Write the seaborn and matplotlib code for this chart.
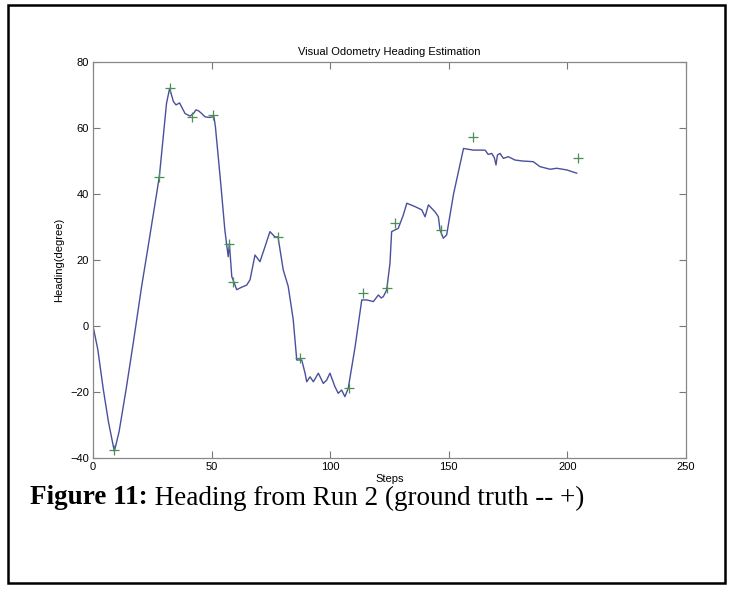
import matplotlib
matplotlib.use("Agg")
import matplotlib.pyplot as plt
import seaborn as sns
import pandas as pd
from matplotlib.patches import Rectangle

# ---- data ----
steps = [0, 2, 4.3, 6.5, 9, 11, 14, 17, 20.5, 23, 26.8, 28, 31, 32.3, 33.9, 35, 36.5,
         38.8, 40.9, 42.5, 43.4, 44.5, 45.8, 47.2, 49, 51, 51.6, 52.8, 54, 55.6, 57,
         57.5, 58.5, 60.6, 62.5, 64.8, 66.2, 68.3, 70.4, 72.5, 74.6, 76.7, 78, 80.2,
         82.3, 84.4, 85.9, 88, 89.4, 90.1, 91.5, 92.9, 95, 97.1, 98.5, 99.9, 102,
         103.4, 104.8, 106.2, 107.6, 110.5, 113.3, 115.4, 118.2, 120.3, 121.5, 122.4,
         123.8, 125.2, 125.9, 128.7, 130.8, 132.3, 135.7, 138.6, 140, 141.4, 144.2,
         145.6, 146.3, 147.7, 149.1, 152, 156.2, 160.3, 165.3, 166.6, 168.1, 169.2,
         169.9, 170.5, 171.6, 173, 175.1, 177.9, 181, 185.6, 188.4, 192.7, 195.5,
         199.7, 204]
heading = [0, -7, -19, -29, -38, -32, -19, -5, 12, 23, 40, 45.5, 67.5, 72, 68, 67, 67.6,
           64.4, 63.6, 64.5, 65.5, 65.2, 64.4, 63.4, 63.2, 63.4, 60.4, 51.3, 42, 29, 21,
           25, 15, 11, 11.7, 12.4, 14, 21.5, 19.5, 24, 28.6, 27, 27, 17,
           12, 2, -10.3, -10.3, -14.3, -16.9, -15.4, -16.9, -14.3, -17.4, -16.4, -14.3, -18.4,
           -20.4, -19.4, -21.4, -18.9, -6.3, 7.9, 7.9, 7.4, 9.4, 8.5, 8.9,
           10.9, 19, 28.6, 29.6, 33.6, 37.2, 36.2, 35.2, 33.1, 36.7, 34.6,
           33.1, 29.1, 26.6, 27.6, 40, 53.8, 53.3, 53.3, 52, 52.3, 51,
           48.8, 51.8, 52.3, 50.8, 51.3, 50.3, 50, 49.8, 48.3, 47.5, 47.8,
           47.3, 46.3]

gt_steps = [9, 28, 32.5, 41.6, 50.7, 57.5, 59.2, 78.1, 87.3, 108.1, 114, 123.8,
            127.3, 146.6, 160.3, 204.6]
gt_heading = [-37.5, 45.2, 72, 63.4, 63.9, 24.8, 13.4, 27, -9.8, -18.9, 10.1, 11.6,
              31.1, 29.1, 57.4, 51]

x_ticks = [0, 50, 100, 150, 200, 250]
y_ticks = [-40, -20, 0, 20, 40, 60, 80]

title = "Visual Odometry Heading Estimation"
xlabel = "Steps"
ylabel = "Heading(degree)"
caption_bold = "Figure 11:"
caption_rest = " Heading from Run 2 (ground truth -- +)"

# ---- plot ----
sns.set_theme(style="white")
plt.rcParams["font.family"] = ["Liberation Sans", "DejaVu Sans"]
plt.rcParams["text.color"] = "black"
plt.rcParams["axes.labelcolor"] = "black"

fig = plt.figure(figsize=(7.33, 5.90), dpi=100)
ax = fig.add_axes([93 / 733, (590 - 458) / 590, 593 / 733, 396 / 590])

df_line = pd.DataFrame({"step": steps, "heading": heading})
df_gt = pd.DataFrame({"step": gt_steps, "heading": gt_heading})

sns.lineplot(data=df_line, x="step", y="heading", sort=False, estimator=None,
             color="#4a4f9e", linewidth=1.0, ax=ax)
sns.scatterplot(data=df_gt, x="step", y="heading", marker="+", s=45,
                color="#4a8f55", linewidth=0.9, ax=ax, zorder=3)

ax.set_xlim(0, 250)
ax.set_ylim(-40, 80)
ax.set_xticks(x_ticks)
ax.set_yticks(y_ticks)
ax.set_xticklabels([str(t) for t in x_ticks])
ax.set_yticklabels([str(t).replace("-", "\u2212") for t in y_ticks])
ax.tick_params(direction="in", length=5, width=0.8, color="#777777",
               labelsize=8, top=True, right=True, bottom=True, left=True,
               labelcolor="black", pad=3)
for s in ax.spines.values():
    s.set_color("#888888")
    s.set_linewidth(0.9)

ax.set_title(title, fontsize=8, pad=5, color="black")
ax.set_xlabel(xlabel, fontsize=8, labelpad=1, color="black")
ax.set_ylabel(ylabel, fontsize=8, labelpad=4, color="black")

# caption
t1 = fig.text(30 / 733, 1 - 498 / 590, caption_bold, fontsize=19.5, color="black",
              fontweight="bold", family="Liberation Serif", va="center", ha="left")
fig.canvas.draw()
bb = t1.get_window_extent()
fig.text(bb.x1 / fig.bbox.width, 1 - 498 / 590, caption_rest, fontsize=19.5,
         color="black", family="Liberation Serif", va="center", ha="left")

# outer border
fig.patches.append(Rectangle((8 / 733, 1 - 583 / 590), 717 / 733, 578 / 590,
                             transform=fig.transFigure, fill=False,
                             edgecolor="black", linewidth=1.8))

fig.savefig("out.png", dpi=100)
